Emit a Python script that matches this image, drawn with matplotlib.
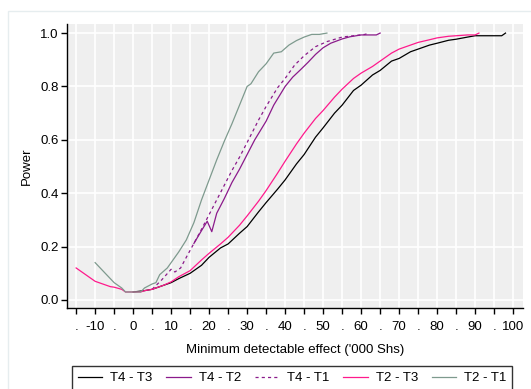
import numpy as np
import matplotlib.pyplot as plt
from matplotlib.patches import Rectangle

plt.rcParams['font.family'] = ['Liberation Sans', 'DejaVu Sans']

# T4 - T3 (black)
x_43 = [0, 3, 5, 8, 10, 12, 15, 18, 20, 23, 25, 28, 30, 33, 35, 38, 40, 43, 45, 48, 50,
        53, 55, 58, 60, 63, 65, 68, 70, 73, 75, 78, 80, 83, 85, 88, 90, 93, 95, 97, 98]
y_43 = [0.03, 0.035, 0.04, 0.055, 0.065, 0.08, 0.10, 0.13, 0.16, 0.195, 0.21, 0.25, 0.275,
        0.33, 0.365, 0.415, 0.45, 0.51, 0.545, 0.61, 0.645, 0.70, 0.73, 0.785, 0.805, 0.843,
        0.86, 0.895, 0.905, 0.93, 0.94, 0.955, 0.962, 0.973, 0.977, 0.985, 0.99, 0.99, 0.99,
        0.99, 1.0]

# T4 - T2 (purple solid)
x_42 = [16, 18, 19.5, 20.7, 22, 24, 26, 28, 30, 32, 35, 37, 40, 42, 44, 46, 48, 50, 52,
        55, 57, 60, 64, 65]
y_42 = [0.212, 0.26, 0.295, 0.256, 0.325, 0.38, 0.44, 0.49, 0.545, 0.6, 0.67, 0.73, 0.8,
        0.835, 0.862, 0.89, 0.92, 0.945, 0.962, 0.978, 0.986, 0.993, 0.993, 1.0]

# T4 - T1 (purple dashed)
x_41 = [5, 7.5, 10, 11, 12.5, 14, 16, 18, 20, 22, 24, 26, 28, 30, 33, 35, 38, 40, 42.5,
        45, 48, 51, 55, 58, 61, 62]
y_41 = [0.04, 0.075, 0.115, 0.105, 0.12, 0.16, 0.212, 0.265, 0.32, 0.375, 0.43, 0.485,
        0.535, 0.59, 0.674, 0.725, 0.795, 0.83, 0.88, 0.915, 0.949, 0.968, 0.985, 0.99,
        0.995, 1.0]

# T2 - T3 (pink)
x_23 = [-15, -12, -10, -8, -6, -5, -3, -2, 0, 2, 3, 5, 8, 10, 12, 15, 18, 20, 23, 25, 28,
        30, 33, 35, 38, 40, 43, 45, 48, 50, 53, 55, 58, 60, 63, 65, 68, 70, 73, 75, 78, 80,
        83, 85, 88, 90, 91]
y_23 = [0.12, 0.09, 0.07, 0.06, 0.05, 0.048, 0.04, 0.03, 0.03, 0.03, 0.035, 0.04, 0.055,
        0.068, 0.087, 0.11, 0.15, 0.175, 0.21, 0.235, 0.28, 0.315, 0.37, 0.41, 0.475, 0.52,
        0.585, 0.625, 0.68, 0.71, 0.76, 0.79, 0.83, 0.85, 0.875, 0.895, 0.925, 0.94, 0.955,
        0.965, 0.975, 0.982, 0.988, 0.99, 0.993, 0.993, 1.0]

# T2 - T1 (grey-green)
x_21 = [-10, -8, -7, -5, -3, -2, 0, 2, 3, 5, 6, 7, 9, 10, 12, 14, 16, 18, 20, 22, 24, 26,
        28, 30, 31, 33, 35, 37, 39, 41, 43, 45, 47, 49, 51]
y_21 = [0.14, 0.11, 0.095, 0.065, 0.045, 0.03, 0.03, 0.03, 0.045, 0.06, 0.065, 0.095,
        0.12, 0.14, 0.18, 0.225, 0.29, 0.375, 0.45, 0.525, 0.595, 0.66, 0.73, 0.8, 0.81,
        0.855, 0.885, 0.925, 0.93, 0.955, 0.972, 0.985, 0.995, 0.995, 1.0]

xticks = np.arange(-15, 101, 5)
xlabels = [str(t) if t % 10 == 0 else '.' for t in xticks]
yticks = [0.0, 0.2, 0.4, 0.6, 0.8, 1.0]

fig = plt.figure(figsize=(5.31, 3.89), dpi=100)
# light outer frame
fig.patches.append(Rectangle((8 / 531, -0.1), 1.2, 1 - 11 / 389 + 0.1, transform=fig.transFigure,
                             fill=False, edgecolor='#E6EDEF', linewidth=1))

ax = fig.add_axes([67 / 531, 81 / 389, 456 / 531, 284 / 389])
ax.set_facecolor('#EFEFEF')
for s in ['top', 'right']:
    ax.spines[s].set_visible(False)
ax.spines['left'].set_linewidth(1)
ax.spines['bottom'].set_linewidth(1)

ax.set_xticks(xticks)
ax.set_xticklabels(xlabels, fontsize=9.5)
ax.set_yticks(yticks)
ax.set_yticklabels(['%.1f' % v for v in yticks], fontsize=9.5)
ax.tick_params(axis='both', length=4, width=1)
ax.tick_params(axis='x', pad=5)
ax.tick_params(axis='y', pad=2)
ax.grid(True, color='white', linewidth=1.2)
ax.set_axisbelow(True)

lw = 0.9
ax.plot(x_43, y_43, color='black', lw=lw, label='T4 - T3')
ax.plot(x_42, y_42, color='#8B1A8B', lw=lw, label='T4 - T2')
ax.plot(x_41, y_41, color='#8B1A8B', lw=lw, ls=(0, (2.5, 2.5)), label='T4 - T1')
ax.plot(x_23, y_23, color='#FF1A8C', lw=lw, label='T2 - T3')
ax.plot(x_21, y_21, color='#7E9A8E', lw=lw, label='T2 - T1')

ax.set_xlim(-17.4, 102.6)
ax.set_ylim(-0.03, 1.034)
ax.set_xlabel("Minimum detectable effect ('000 Shs)", fontsize=9.5, labelpad=8)
ax.set_ylabel('Power', fontsize=9.5, labelpad=5)

leg = fig.legend(loc='upper left', bbox_to_anchor=(72 / 531, 1 - 366 / 389), ncol=5,
                 fontsize=9.5, frameon=True, fancybox=False, edgecolor='black',
                 handlelength=1.85, handletextpad=0.6, columnspacing=1.05,
                 borderpad=0.45, borderaxespad=0)
leg.get_frame().set_linewidth(1)

fig.savefig('out.png', dpi=100)
